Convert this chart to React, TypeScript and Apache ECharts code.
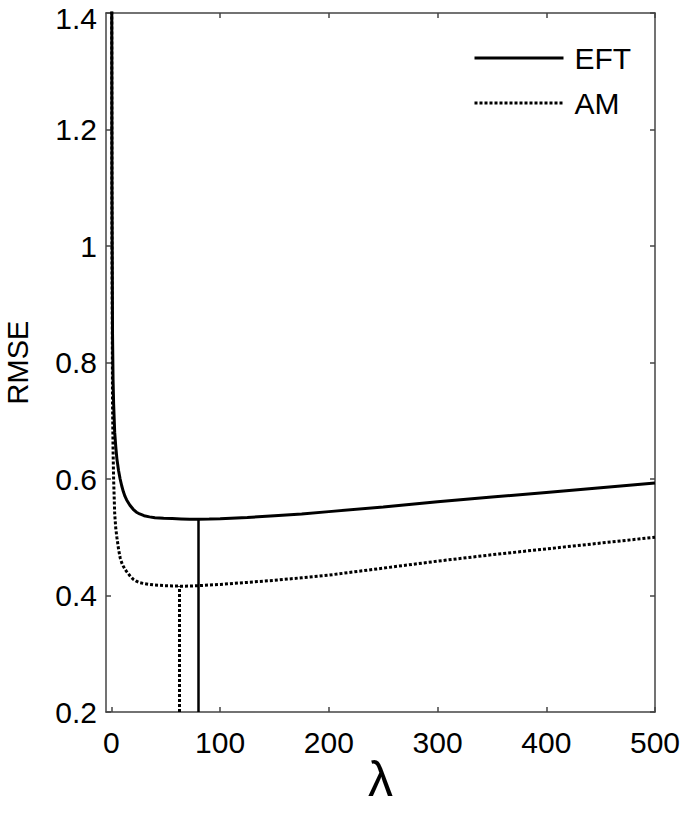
import React, { useEffect, useRef } from "react";
import * as echarts from "echarts";

const lambdaValues = [0.2, 0.5, 1, 1.5, 2, 3, 4, 5, 6.5, 8, 9.5, 11, 12.5, 14, 17, 20, 23, 26, 30, 35, 40, 48, 56, 64, 72, 80, 90, 100, 125, 150, 175, 200, 250, 300, 350, 400, 450, 500];
const eftValues = [1.6, 1.1, 0.85, 0.77, 0.73, 0.68, 0.655, 0.635, 0.615, 0.6, 0.588, 0.578, 0.57, 0.564, 0.555, 0.548, 0.543, 0.540, 0.537, 0.535, 0.5335, 0.5325, 0.532, 0.5315, 0.531, 0.531, 0.5312, 0.5318, 0.534, 0.537, 0.540, 0.544, 0.552, 0.561, 0.569, 0.577, 0.585, 0.593];
const amValues = [1.6, 1.0, 0.73, 0.65, 0.6, 0.54, 0.515, 0.5, 0.48, 0.465, 0.456, 0.45, 0.445, 0.441, 0.434, 0.428, 0.4245, 0.422, 0.4205, 0.419, 0.418, 0.417, 0.4165, 0.416, 0.4162, 0.4168, 0.418, 0.419, 0.4225, 0.426, 0.4305, 0.435, 0.447, 0.459, 0.47, 0.48, 0.49, 0.5];
const eftMin = { lambda: 80, rmse: 0.531 };
const amMin = { lambda: 62, rmse: 0.416 };
const xTicks = [0, 100, 200, 300, 400, 500];
const seriesNames = ["EFT", "AM"];

const FONT = "Liberation Sans";
const FRAME = "#444";

export default function App() {
  const ref = useRef<HTMLDivElement>(null);
  useEffect(() => {
    if (!ref.current) return;
    const chart = echarts.init(ref.current, undefined, { renderer: "svg" });
    const yMin = 0.2;
    const yMax = 1.4;
    const mkX = (pos: "bottom" | "top", labels: boolean) => ({
      type: "value",
      position: pos,
      min: -5,
      max: 500,
      splitLine: { show: false },
      axisLine: { show: true, onZero: false, lineStyle: { color: FRAME, width: 1.5 } },
      axisTick: { show: true, inside: true, length: 5, customValues: xTicks, lineStyle: { color: FRAME, width: 1.5 } },
      axisLabel: { show: labels, customValues: xTicks, fontFamily: FONT, fontSize: 30, color: "#000", margin: 15 },
      name: labels ? "λ" : "",
      nameLocation: "middle",
      nameMoveOverlap: false,
      nameGap: 44,
      nameTextStyle: { fontFamily: FONT, fontSize: 50, lineHeight: 46, color: "#000" },
    });
    const mkY = (pos: "left" | "right", labels: boolean) => ({
      type: "value",
      position: pos,
      min: yMin,
      max: yMax,
      interval: 0.2,
      splitLine: { show: false },
      axisLine: { show: true, onZero: false, lineStyle: { color: FRAME, width: 1.5 } },
      axisTick: { show: true, inside: true, length: 5, lineStyle: { color: FRAME, width: 1.5 } },
      axisLabel: {
        show: labels,
        fontFamily: FONT,
        fontSize: 30,
        lineHeight: 24,
        color: "#000",
        margin: 9,
        formatter: (v: number) => {
          const s = String(parseFloat(v.toFixed(1)));
          return v >= yMax - 0.01 ? `{t|${s}}` : s;
        },
        rich: { t: { fontFamily: FONT, fontSize: 30, lineHeight: 24, color: "#000", padding: [10, 0, 0, 0] } },
      },
      name: labels ? "RMSE" : "",
      nameLocation: "middle",
      nameGap: 76,
      nameTextStyle: { fontFamily: FONT, fontSize: 29, lineHeight: 24, color: "#000" },
    });
    chart.setOption({
      animation: false,
      backgroundColor: "#fff",
      grid: { left: 106, top: 13, right: 30, bottom: 101, containLabel: false, outerBoundsMode: "none" },
      legend: {
        orient: "vertical",
        left: 468,
        top: 38,
        itemWidth: 89,
        itemHeight: 14,
        itemGap: 15,
        data: seriesNames,
        itemStyle: { opacity: 0 },
        lineStyle: { width: 3 },
        textStyle: { fontFamily: FONT, fontSize: 30, color: "#000", padding: [0, 0, 0, 6], lineHeight: 30 },
      },
      xAxis: [mkX("bottom", true), mkX("top", false)],
      yAxis: [mkY("left", true), mkY("right", false)],
      series: [
        {
          name: seriesNames[0],
          type: "line",
          data: lambdaValues.map((l, i) => [l, eftValues[i]]),
          symbol: "none",
          smooth: false,
          clip: true,
          lineStyle: { color: "#000", width: 3, type: "solid" },
          itemStyle: { color: "#000" },
          markLine: {
            silent: true,
            symbol: "none",
            label: { show: false },
            lineStyle: { color: "#000", width: 2.5, type: "solid" },
            data: [[{ coord: [eftMin.lambda, yMin] }, { coord: [eftMin.lambda, eftMin.rmse] }]],
          },
        },
        {
          name: seriesNames[1],
          type: "line",
          data: lambdaValues.map((l, i) => [l, amValues[i]]),
          symbol: "none",
          smooth: false,
          clip: true,
          lineStyle: { color: "#000", width: 3, type: [3, 2] },
          itemStyle: { color: "#000" },
          markLine: {
            silent: true,
            symbol: "none",
            label: { show: false },
            lineStyle: { color: "#000", width: 3, type: [3, 2] },
            data: [[{ coord: [amMin.lambda, yMin] }, { coord: [amMin.lambda, amMin.rmse] }]],
          },
        },
      ],
    });
    return () => chart.dispose();
  }, []);
  return (
    <div
      ref={ref}
      style={{ position: "absolute", left: 0, top: 0, width: 685, height: 813, background: "#fff" }}
    />
  );
}
